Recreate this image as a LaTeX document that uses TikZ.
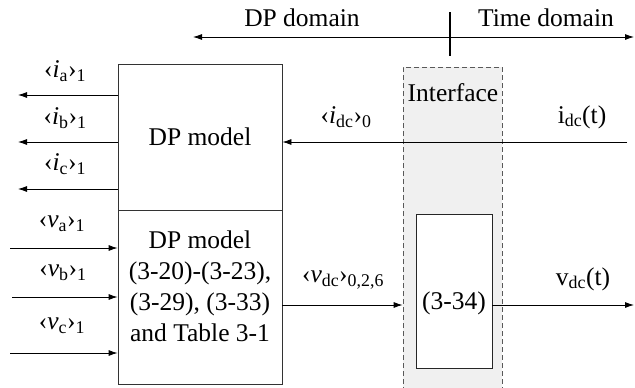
\documentclass[tikz,border=0pt]{standalone}
\usepackage{fontspec}
\setmainfont{Liberation Serif}
\newfontfamily\figfont{Liberation Serif}
\usetikzlibrary{arrows.meta}

\begin{document}
\begin{tikzpicture}[x=1bp,y=-1bp,font=\figfont\fontsize{25.5bp}{31bp}\selectfont,
  >={Latex[length=9bp,width=6bp]},
  blk/.style={draw=black!80,line width=0.8bp,minimum width=164bp},
  sig/.style={->,line width=0.8bp}]

\useasboundingbox (0,0) rectangle (635,387);

% domain axis
\draw[<->,line width=0.8bp] (193,37) -- (634,37);
\draw[line width=1.6bp] (450,12) -- (450,56);
\node (dpd) at (302,18) {DP domain};
\node (tmd) at (546,18) {Time domain};

% interface
\node[draw=black!65,dash pattern=on 5bp off 3bp,fill=black!6,line width=0.8bp,minimum width=99bp,minimum height=322bp] (intf) at (452.5,228) {};
\node (intl) at (453,93) {Interface};
\node[draw=black!85,fill=white,line width=0.8bp,minimum width=76bp,minimum height=154bp] (eq) at (454,291) {};
\node (eqt) at (454,303) {(3-34)};

% DP model blocks
\node[blk,minimum height=146bp] (dpi) at (200,137) {DP model};
\node[blk,minimum height=174bp] (dpv) at (200,297) {};
\node[align=center] (dpvt) at (200,286) {DP model\\(3-20)-(3-23),\\(3-29), (3-33)\\and Table 3-1};

% current outputs
\coordinate (ia) at (18,95);
\coordinate (ib) at (18,142);
\coordinate (ic) at (18,189);
\draw[sig] (dpi.west |- ia) -- (ia);
\draw[sig] (dpi.west |- ib) -- (ib);
\draw[sig] (dpi.west |- ic) -- (ic);
\node (lia) at (65,71) {‹\textit{i}\textsubscript{a}›\textsubscript{1}};
\node (lib) at (65,118) {‹\textit{i}\textsubscript{b}›\textsubscript{1}};
\node (lic) at (65,164) {‹\textit{i}\textsubscript{c}›\textsubscript{1}};

% voltage inputs
\coordinate (va) at (10,248);
\coordinate (vb) at (12,297);
\coordinate (vc) at (10,353);
\draw[sig] (va) -- (dpv.west |- va);
\draw[sig] (vb) -- (dpv.west |- vb);
\draw[sig] (vc) -- (dpv.west |- vc);
\node (lva) at (62,224) {‹\textit{v}\textsubscript{a}›\textsubscript{1}};
\node (lvb) at (63,273) {‹\textit{v}\textsubscript{b}›\textsubscript{1}};
\node (lvc) at (62,326) {‹\textit{v}\textsubscript{c}›\textsubscript{1}};

% dc side
\coordinate (idc) at (627,142);
\draw[sig] (idc) -- (dpi.east |- idc);
\node (lidp) at (346,117) {‹\textit{i}\textsubscript{dc}›\textsubscript{0}};
\node (lidt) at (582,117) {i\textsubscript{dc}(t)};

\coordinate (vdc) at (0,305);
\coordinate (vout) at (634,305);
\draw[sig] (dpv.east |- vdc) -- (intf.west |- vdc);
\draw[sig] (eq.east |- vout) -- (vout);
\node (lvdp) at (343,280) {‹\textit{v}\textsubscript{dc}›\textsubscript{0,2,6}};
\node (lvdt) at (583,279) {v\textsubscript{dc}(t)};

\end{tikzpicture}
\end{document}
